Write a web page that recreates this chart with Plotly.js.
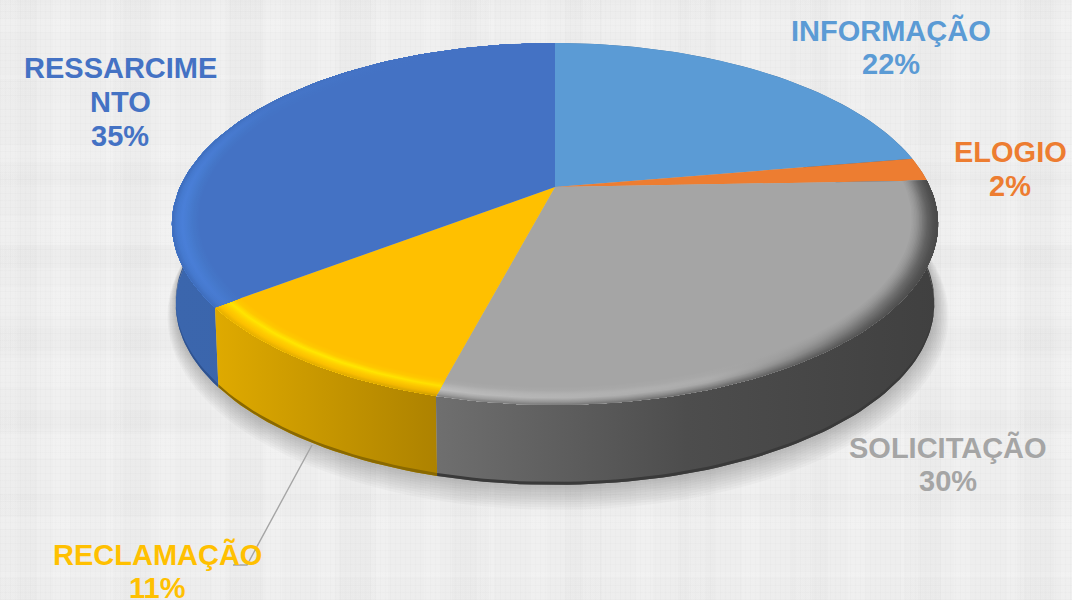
<!DOCTYPE html>
<html><head><meta charset="utf-8">
<script src="https://cdn.plot.ly/plotly-3.0.1.min.js"></script>
<style>
html,body{margin:0;padding:0;width:1072px;height:600px;overflow:hidden;background-color:#eeeeee;
background-image:
repeating-linear-gradient(90deg,rgba(0,0,0,.012) 0 1px,transparent 1px 5px),
repeating-linear-gradient(0deg,rgba(0,0,0,.012) 0 1px,transparent 1px 7px),
repeating-linear-gradient(90deg,rgba(255,255,255,.12) 0 17px,transparent 17px 53px),
repeating-linear-gradient(0deg,rgba(255,255,255,.10) 0 29px,transparent 29px 71px),
repeating-linear-gradient(90deg,rgba(0,0,0,.010) 0 37px,transparent 37px 113px),
repeating-linear-gradient(0deg,rgba(0,0,0,.010) 0 23px,transparent 23px 83px);}
#chart{width:1072px;height:600px}
</style></head><body><div id="chart"></div>
<script>
// Data
const categories = ["INFORMAÇÃO","ELOGIO","SOLICITAÇÃO","RECLAMAÇÃO","RESSARCIMENTO"];
const labelLines = [["INFORMAÇÃO"],["ELOGIO"],["SOLICITAÇÃO"],["RECLAMAÇÃO"],["RESSARCIME","NTO"]];
const percents = [22,2,30,11,35];
const sliceShares = [22.3,2.1,29.7,10.5,35.4];
const topColors = ["#5b9bd5","#ed7d31","#a5a5a5","#ffc000","#4472c4"];
const labelX = [890.5,1010,948,157.5,120];
const labelY = [30,152,447,554,68];
const LINE_GAP = 34;

// Styling
const sideScales = [
  [[0,"#3f6f9c"],[1,"#3f6f9c"]],
  [[0,"#a85820"],[1,"#a85820"]],
  [[0,"#6f6f6f"],[0.5,"#4d4d4d"],[1,"#404040"]],
  [[0,"#dfaa00"],[1,"#ad8200"]],
  [[0,"#3b66ad"],[1,"#3a63a8"]]
];
const sideEdge = ["#2f5272","#7a3f16","#3a3a3a","#8a6900","#2f5390"];
// bevel stops inner to outer, each [left colour, mid colour, right colour]
const bevelPos = [0.93,0.945,0.96,0.972,0.986,1.0];
const bevels = {
  2:[["#a5a5a5","#a5a5a5","#a5a5a5"],["#a9a9a9","#a8a8a8","#929292"],["#b6b6b6","#adadad","#747474"],["#bdbdbd","#a8a8a8","#5e5e5e"],["#a4a4a4","#8a8a8a","#505050"],["#7c7c7c","#646464","#484848"]],
  3:[["#ffc000","#ffc000","#ffc000"],["#ffc800","#ffc800","#ffc800"],["#ffe400","#ffe800","#ffe000"],["#ffd000","#ffd000","#fcc800"],["#fcc000","#fbbf00","#f0b400"],["#e4ae00","#dca800","#c89a00"]],
  4:[["#4472c4","#4472c4","#4472c4"],["#4578ca","#4473c5","#4472c4"],["#487ed4","#4474c6","#4472c4"],["#4a80da","#4575c8","#4472c4"],["#457ad0","#4574c6","#4472c4"],["#3c6ab8","#4170be","#4472c4"]]
};
const BEVEL_STEPS = 4;

// Projection of the disc
const CX=555, CY=187, A=375, B=173.4, K=-0.2044, DEPTH=80, SHRINK=0.99;
function pt(r,deg,down){
  const t=deg*Math.PI/180, d=1-K*r*Math.cos(t);
  const x=A*r*Math.sin(t)/d, y=-B*r*Math.cos(t)/d;
  if(!down) return [CX+x,CY+y];
  return [CX+x*SHRINK,CY+y+down];
}
function arc(r,a0,a1,down){
  const n=Math.max(2,Math.ceil(Math.abs(a1-a0)/1.5)), p=[];
  for(let i=0;i<=n;i++) p.push(pt(r,a0+(a1-a0)*i/n,down));
  return p;
}
function poly(points,style){
  const x=points.map(p=>p[0]), y=points.map(p=>p[1]);
  x.push(x[0]); y.push(y[0]);
  return Object.assign({type:"scatter",mode:"lines",x,y,fill:"toself",line:{width:0},hoverinfo:"skip",showlegend:false},style);
}
function hex(c){return [1,3,5].map(i=>parseInt(c.substr(i,2),16));}
function mix(a,b,f){const p=hex(a),q=hex(b);return "rgb("+p.map((v,i)=>Math.round(v+(q[i]-v)*f)).join(",")+")";}

const total=sliceShares.reduce((a,b)=>a+b,0);
const starts=[]; let acc=0;
sliceShares.forEach(v=>{starts.push(acc/total*360); acc+=v;});
const ends=sliceShares.map((v,i)=>starts[i]+v/total*360);

const traces=[];
// soft shadow below the pie
for(let i=10;i>=1;i--){
  const p=[];
  for(let a=0;a<360;a+=3){const q=pt(1,a,DEPTH+i*0.9);p.push([CX+(q[0]-CX)*(1+i*0.003)+i*0.3,q[1]+(q[1]-(CY+DEPTH))*i*0.007]);}
  traces.push(poly(p,{fillcolor:"rgba(70,70,70,0.032)"}));
}
// leader line
traces.push({type:"scatter",mode:"lines",x:[312,247,233],y:[445,565,565],line:{color:"#a5a5a5",width:1.4},hoverinfo:"skip",showlegend:false});
// sides
[4,0,1,3,2].forEach(i=>{
  const top=arc(1,starts[i],ends[i]), bot=arc(1,ends[i],starts[i],DEPTH);
  traces.push(poly(top.concat(bot),{fillgradient:{type:"horizontal",colorscale:sideScales[i]},fillcolor:topColors[i]}));
  const e1=arc(1,starts[i],ends[i],DEPTH-3), e2=arc(1,ends[i],starts[i],DEPTH);
  traces.push(poly(e1.concat(e2),{fillcolor:sideEdge[i]}));
});
// top faces
sliceShares.forEach((v,i)=>{
  traces.push(poly([[CX,CY]].concat(arc(1,starts[i],ends[i])),{fillcolor:topColors[i]}));
});
// bevel rings: each ring runs out to the rim and is overpainted by the next
Object.keys(bevels).forEach(key=>{
  const i=+key, stops=bevels[key];
  for(let b=0;b<stops.length-1;b++){
    for(let s=0;s<BEVEL_STEPS;s++){
      const f=s/BEVEL_STEPS, rIn=bevelPos[b]+(bevelPos[b+1]-bevelPos[b])*f;
      const col=[0,1,2].map(k=>mix(stops[b][k],stops[b+1][k],f));
      const grad={type:"horizontal",colorscale:[[0,col[0]],[0.55,col[1]],[1,col[2]]]};
      if(i===4){grad.start=172;grad.stop=420;grad.colorscale=[[0,col[0]],[0.4,col[1]],[1,col[2]]];}
      if(i===2){grad.start=435;grad.stop=935;}
      if(i===3){grad.start=217;grad.stop=437;}
      traces.push(poly(arc(1,starts[i],ends[i]).concat(arc(rIn,ends[i],starts[i])),{fillgradient:grad,fillcolor:topColors[i]}));
    }
  }
});

const annotations=[];
categories.forEach((c,i)=>{
  labelLines[i].concat([percents[i]+"%"]).forEach((line,n)=>{
    annotations.push({
      x:labelX[i],y:labelY[i]+n*LINE_GAP,xref:"x",yref:"y",xanchor:"center",yanchor:"middle",showarrow:false,
      text:line,font:{family:"Liberation Sans, Arial, sans-serif",size:29,color:topColors[i],weight:"bold"}
    });
  });
});

Plotly.newPlot("chart",traces,{
  width:1072,height:600,margin:{l:0,r:0,t:0,b:0},
  paper_bgcolor:"rgba(0,0,0,0)",plot_bgcolor:"rgba(0,0,0,0)",showlegend:false,hovermode:false,
  xaxis:{range:[0,1072],visible:false,fixedrange:true},
  yaxis:{range:[600,0],visible:false,fixedrange:true},
  annotations
},{displayModeBar:false,staticPlot:true});
</script></body></html>
